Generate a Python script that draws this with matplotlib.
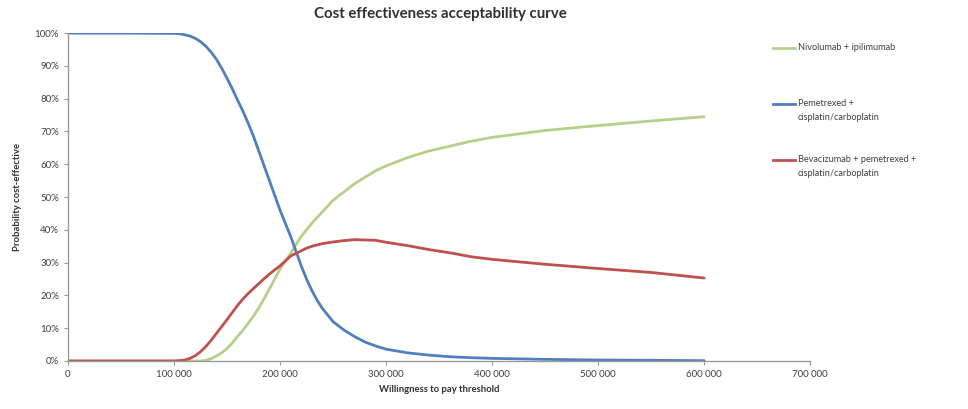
import matplotlib
matplotlib.use("Agg")
import matplotlib.pyplot as plt
from matplotlib.lines import Line2D
from matplotlib.ticker import FuncFormatter, MultipleLocator

'''
Cost effectiveness acceptability curve: probability that each treatment is cost-effective by willingness-to-pay threshold.
'''

wtp = [0, 50000, 100000, 105000, 110000, 115000, 120000, 125000, 130000, 135000,
       140000, 145000, 150000, 155000, 160000, 165000, 170000, 175000, 180000,
       185000, 190000, 195000, 200000, 205000, 210000, 215000, 220000, 225000,
       230000, 235000, 240000, 250000, 260000, 270000, 280000, 290000,
       300000, 320000, 340000, 360000, 380000, 400000, 450000, 500000, 550000,
       600000]

nivolumab = [0, 0, 0, 0, 0, 0, 0, 0, 0.2, 0.7,
             1.5, 2.5, 3.8, 5.5, 7.5, 9.4, 11.5, 13.7, 16.2,
             19, 22, 25, 28, 30.5, 32.8, 35.5, 38, 40,
             42, 43.8, 45.5, 49, 51.5, 54, 56, 58,
             59.5, 62, 64, 65.5, 67, 68.2, 70.3, 71.8, 73.2,
             74.5]

pemetrexed = [100, 100, 99.9, 99.8, 99.5, 99.1, 98.4, 97.4, 96, 94.2,
              92, 89.3, 86.2, 83, 79.5, 76.2, 72.5, 68.5, 64,
              59.5, 55, 50.5, 46, 42, 38, 33.5, 29, 25,
              21.5, 18.5, 16, 12, 9.5, 7.5, 5.8, 4.6,
              3.6, 2.5, 1.8, 1.3, 1.0, 0.8, 0.5, 0.3, 0.2,
              0.1]

bevacizumab = [0, 0, 0, 0.1, 0.3, 0.8, 1.6, 2.8, 4.4, 6.3,
               8.4, 10.5, 12.6, 14.8, 17, 18.9, 20.6, 22.1, 23.6,
               25.1, 26.5, 27.8, 29, 30.5, 32, 32.8, 33.6, 34.4,
               35, 35.4, 35.8, 36.3, 36.7, 37, 36.9, 36.8,
               36.2, 35.2, 34, 33, 31.8, 31, 29.5, 28.2, 27,
               25.3]

series = [
    ("Nivolumab + ipilimumab", nivolumab, "#b8cf8c"),
    ("Pemetrexed +\ncisplatin/carboplatin", pemetrexed, "#4f7fbf"),
    ("Bevacizumab + pemetrexed +\ncisplatin/carboplatin", bevacizumab, "#c0504d"),
]


def main():
    plt.rcParams["font.family"] = ["Lato", "DejaVu Sans"]
    fig = plt.figure(figsize=(9.68, 4.09), dpi=100)
    ax = fig.add_axes([0.0702, 0.1174, 0.7668, 0.8017])

    for label, values, color in series:
        ax.plot(wtp, values, color=color, linewidth=2.0,
                solid_capstyle="round", solid_joinstyle="round")

    ax.set_xlim(0, 700000)
    ax.set_ylim(0, 100)
    ax.xaxis.set_major_locator(MultipleLocator(100000))
    ax.yaxis.set_major_locator(MultipleLocator(10))
    ax.xaxis.set_major_formatter(FuncFormatter(lambda v, p: f"{int(v):,}".replace(",", " ")))
    ax.yaxis.set_major_formatter(FuncFormatter(lambda v, p: f"{int(v)}%"))
    ax.tick_params(labelsize=7, colors="#9a9a9a", labelcolor="#404040", length=3, width=0.8)

    for side in ("top", "right"):
        ax.spines[side].set_visible(False)
    for side in ("left", "bottom"):
        ax.spines[side].set_color("#9a9a9a")
        ax.spines[side].set_linewidth(1.0)

    ax.set_xlabel("Willingness to pay threshold", fontsize=6.8, fontweight="bold", color="#303030", labelpad=4)
    ax.set_ylabel("Probability cost-effective", fontsize=6.8, fontweight="bold", color="#303030", labelpad=9)
    fig.text(0.455, 0.965, "Cost effectiveness acceptability curve", ha="center", va="center",
             fontsize=10.8, fontweight="bold", color="#303030")

    # legend drawn by hand so the line sits beside the first text line, like Excel
    legend_rows = [1 - 48 / 409, 1 - 104 / 409, 1 - 160 / 409]
    for (label, values, color), y in zip(series, legend_rows):
        fig.add_artist(Line2D([773 / 968, 795 / 968], [y, y], color=color, linewidth=2.0,
                              transform=fig.transFigure))
        fig.text(798 / 968, y + 0.013, label, ha="left", va="top", fontsize=6.6,
                 color="#404040", linespacing=1.8)

    fig.savefig("out.png", dpi=100)


if __name__ == "__main__":
    main()
